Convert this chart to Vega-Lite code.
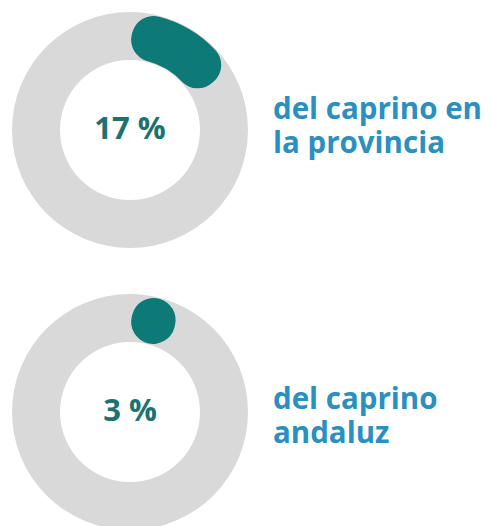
{
  "$schema": "https://vega.github.io/schema/vega-lite/v6.json",
  "padding": 0,
  "background": "white",
  "config": {"view": {"stroke": null}},
  "datasets": {
    "shares": [
      {"id": "provincia", "pct": 17, "label": "del caprino en\nla provincia"},
      {"id": "andalucia", "pct": 3, "label": "del caprino\nandaluz"}
    ]
  },
  "spacing": 22,
  "vconcat": [
    {
      "spacing": 13,
      "hconcat": [
        {
          "width": 260,
          "height": 260,
          "data": {"name": "shares"},
          "transform": [
            {"filter": "datum.id == 'provincia'"},
            {"calculate": "datum.pct + ' %'", "as": "pct_text"}
          ],
          "layer": [
            {
              "mark": {"type": "arc", "theta": 0, "theta2": 6.2832, "radius": 118, "radius2": 70, "fill": "#d9d9d9"},
              "encoding": {}
            },
            {
              "mark": {"type": "arc", "radius": 95, "radius2": 93, "fill": "#0e7a77", "stroke": "#0e7a77", "strokeWidth": 44, "strokeJoin": "round"},
              "encoding": {
                "theta": {"field": "pct", "type": "quantitative", "scale": {"domain": [8, 100], "range": [0.2513, 6.0319], "clamp": true}},
                "theta2": {"datum": 0}
              }
            },
            {
              "mark": {"type": "text", "font": "Open Sans", "fontWeight": "bold", "fontSize": 31, "color": "#1b7270", "align": "center", "baseline": "middle"},
              "encoding": {"text": {"field": "pct_text", "type": "nominal"}}
            }
          ]
        },
        {
          "width": 219,
          "height": 260,
          "data": {"name": "shares"},
          "transform": [{"filter": "datum.id == 'provincia'"}],
          "mark": {"type": "text", "align": "left", "baseline": "middle", "x": 0, "dy": -20, "font": "Open Sans", "fontWeight": "bold", "fontSize": 29.5, "lineHeight": 34, "color": "#2a8fc1", "lineBreak": "\n"},
          "encoding": {"text": {"field": "label", "type": "nominal"}}
        }
      ]
    },
    {
      "spacing": 13,
      "hconcat": [
        {
          "width": 260,
          "height": 260,
          "data": {"name": "shares"},
          "transform": [
            {"filter": "datum.id == 'andalucia'"},
            {"calculate": "datum.pct + ' %'", "as": "pct_text"}
          ],
          "layer": [
            {
              "mark": {"type": "arc", "theta": 0, "theta2": 6.2832, "radius": 118, "radius2": 70, "fill": "#d9d9d9"},
              "encoding": {}
            },
            {
              "mark": {"type": "arc", "radius": 95, "radius2": 93, "fill": "#0e7a77", "stroke": "#0e7a77", "strokeWidth": 44, "strokeJoin": "round"},
              "encoding": {
                "theta": {"field": "pct", "type": "quantitative", "scale": {"domain": [8, 100], "range": [0.2513, 6.0319], "clamp": true}},
                "theta2": {"datum": 0}
              }
            },
            {
              "mark": {"type": "text", "font": "Open Sans", "fontWeight": "bold", "fontSize": 31, "color": "#1b7270", "align": "center", "baseline": "middle"},
              "encoding": {"text": {"field": "pct_text", "type": "nominal"}}
            }
          ]
        },
        {
          "width": 219,
          "height": 260,
          "data": {"name": "shares"},
          "transform": [{"filter": "datum.id == 'andalucia'"}],
          "mark": {"type": "text", "align": "left", "baseline": "middle", "x": 0, "dy": -12, "font": "Open Sans", "fontWeight": "bold", "fontSize": 29.5, "lineHeight": 34, "color": "#2a8fc1", "lineBreak": "\n"},
          "encoding": {"text": {"field": "label", "type": "nominal"}}
        }
      ]
    }
  ]
}
